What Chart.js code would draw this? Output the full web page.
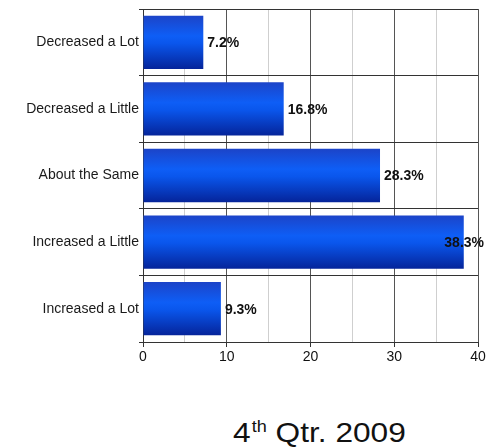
<!DOCTYPE html>
<html lang="en">
<head>
  <meta charset="UTF-8">
  <title>4th Qtr. 2009</title>
  <style>
    * { box-sizing: border-box; margin: 0; padding: 0; }
    body { width: 489px; height: 448px; background: #fff; position: relative; overflow: hidden;
           font-family: Arial, "Liberation Sans", sans-serif; }
    .chart-box { position: absolute; left: 0; top: 0; width: 489px; height: 372px; }
    .period {
      position: absolute; left: 233px; top: 419px;
      font-size: 28px; line-height: 28px; color: #111; white-space: nowrap;
      transform: scaleX(1.13); transform-origin: left center;
    }
    .period sup { font-size: 16px; vertical-align: 10px; line-height: 0; margin-left: 1px; }
  </style>
</head>
<body>
  <div class="chart-box"><canvas id="changeChart"></canvas></div>
  <div class="period">4<sup>th</sup> Qtr. 2009</div>

  <script src="https://cdn.jsdelivr.net/npm/chart.js"></script>
  <script>
    const categories = ['Decreased a Lot', 'Decreased a Little', 'About the Same', 'Increased a Little', 'Increased a Lot'];
    const shares = [7.2, 16.8, 28.3, 38.3, 9.3];
    const axisTicks = [0, 10, 20, 30, 40];

    // vertical shine on each bar, built from the bar's band on the y scale
    function barFill(ctx) {
      const chart = ctx.chart;
      const y = chart.scales.y;
      if (!chart.chartArea || !y) return '#0b55ee';
      const band = y.height / categories.length;
      const mid = y.getPixelForValue(ctx.dataIndex);
      const half = band * 0.4;
      const g = chart.ctx.createLinearGradient(0, mid - half, 0, mid + half);
      g.addColorStop(0, '#1c44c8');
      g.addColorStop(0.38, '#0e5ef6');
      g.addColorStop(0.52, '#0a56ec');
      g.addColorStop(1, '#05249a');
      return g;
    }

    const valueLabels = {
      id: 'valueLabels',
      afterDatasetsDraw(chart) {
        const c = chart.ctx;
        const meta = chart.getDatasetMeta(0);
        c.save();
        c.font = 'bold 14px Arial, "Liberation Sans", sans-serif';
        c.fillStyle = '#111';
        c.textBaseline = 'middle';
        meta.data.forEach((bar, i) => {
          const txt = shares[i].toFixed(1) + '%';
          const w = c.measureText(txt).width;
          const x = Math.min(bar.x + 4, chart.width - 5 - w);
          c.fillText(txt, x, bar.y + 1);
        });
        c.restore();
      }
    };

    new Chart(document.getElementById('changeChart'), {
      type: 'bar',
      data: {
        labels: categories,
        datasets: [{
          data: shares,
          backgroundColor: barFill,
          borderWidth: 0,
          categoryPercentage: 0.8,
          barPercentage: 1
        }]
      },
      options: {
        indexAxis: 'y',
        responsive: true,
        maintainAspectRatio: false,
        animation: false,
        layout: { padding: { top: 9, right: 11, left: 0, bottom: 0 } },
        plugins: { legend: { display: false }, tooltip: { enabled: false } },
        scales: {
          x: {
            min: 0, max: 40,
            ticks: {
              stepSize: 5,
              color: '#111',
              font: { size: 14, family: 'Arial, "Liberation Sans", sans-serif' },
              padding: 2,
              callback: v => axisTicks.includes(v) ? v : ''
            },
            grid: {
              color: c => c.tick && c.tick.value % 10 === 0 ? '#555' : '#cfcfcf',
              tickColor: c => c.tick && c.tick.value % 10 === 0 ? '#333' : 'rgba(0,0,0,0)',
              tickLength: 5,
              lineWidth: 1
            },
            border: { color: '#333', width: 1 },
            afterFit: s => { s.height = 30; }
          },
          y: {
            ticks: {
              color: '#1a1a1a',
              font: { size: 14, family: 'Arial, "Liberation Sans", sans-serif' },
              padding: 0
            },
            grid: { color: '#333', tickColor: '#333', tickLength: 4, offset: true, lineWidth: 1 },
            border: { color: '#333', width: 1 },
            afterFit: s => { s.width = 143; }
          }
        }
      },
      plugins: [valueLabels]
    });
  </script>
</body>
</html>
